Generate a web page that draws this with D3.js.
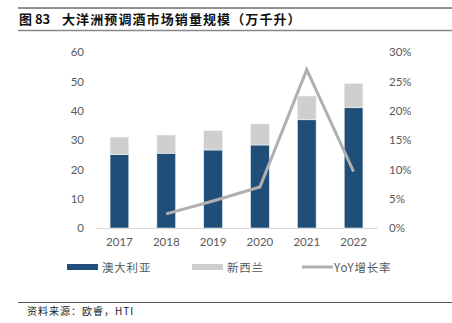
<!DOCTYPE html>
<html><head><meta charset="utf-8">
<script src="https://cdn.jsdelivr.net/npm/d3@7"></script>
<style>
body{margin:0;background:#fff;}
svg{display:block;}
</style></head>
<body>
<svg id="c" width="452" height="323"></svg>
<script>
const years = ["2017","2018","2019","2020","2021","2022"];
const australia = [25.0, 25.5, 26.6, 28.3, 36.9, 41.0];
const newZealand = [6.0, 6.2, 6.6, 7.2, 8.1, 8.3];
const yoy = [null, 2.4, 4.6, 7.0, 27.0, 9.6];
const leftTicks = [0,10,20,30,40,50,60];
const rightTicks = [0,5,10,15,20,25,30];
const seriesNames = ["澳大利亚","新西兰","YoY增长率"];
const titleNum = "图 83";
const title = "大洋洲预调酒市场销量规模（万千升）";
const source = "资料来源：欧睿，HTI";

const svg = d3.select("#c");
const cjk = "'Noto Sans CJK SC', sans-serif";
const latin = "Lato, 'Noto Sans', sans-serif";
const colAus = "#1f4e79", colNz = "#d0cece", colLine = "#b0b0b0", txt = "#595959";

// title block
svg.append("line").attr("x1",18).attr("x2",452).attr("y1",8).attr("y2",8).attr("stroke","#222").attr("stroke-width",1);
svg.append("line").attr("x1",18).attr("x2",452).attr("y1",30.5).attr("y2",30.5).attr("stroke","#888").attr("stroke-width",1.5);
svg.append("text").attr("x",19).attr("y",24).attr("font-family",cjk).attr("font-weight","bold")
  .attr("font-size",13).attr("fill","#111").attr("xml:space","preserve").text(titleNum);
svg.append("text").attr("x",62).attr("y",24).attr("font-family",cjk).attr("font-weight","bold")
  .attr("font-size",13).attr("letter-spacing",1.1).attr("fill","#111").text(title);

const x = d3.scaleBand().domain(years).range([96,377]).paddingInner(0.6).paddingOuter(0.3);
const y = d3.scaleLinear().domain([0,60]).range([228,52]);
const y2 = d3.scaleLinear().domain([0,30]).range([228,52]);

// bars
const g = svg.append("g");
g.selectAll("rect.aus").data(years).join("rect").attr("class","aus")
  .attr("x",d=>x(d)).attr("width",x.bandwidth())
  .attr("y",(d,i)=>y(australia[i])).attr("height",(d,i)=>y(0)-y(australia[i]))
  .attr("fill",colAus).attr("stroke","#e8eef4").attr("stroke-width",0.6);
g.selectAll("rect.nz").data(years).join("rect").attr("class","nz")
  .attr("x",d=>x(d)).attr("width",x.bandwidth())
  .attr("y",(d,i)=>y(australia[i]+newZealand[i])).attr("height",(d,i)=>y(australia[i])-y(australia[i]+newZealand[i]))
  .attr("fill",colNz).attr("stroke","#f2f2f2").attr("stroke-width",0.6);

// x axis
const xAxis = svg.append("g").attr("transform","translate(0,228)").call(d3.axisBottom(x).tickSize(0).tickPadding(10));
xAxis.select(".domain").attr("stroke","#d9d9d9").attr("stroke-width",1.2);
xAxis.selectAll("text").attr("font-family",latin).attr("font-size",11.5).attr("fill",txt);

// left axis
const yAxis = svg.append("g").attr("transform","translate(84,0)").call(d3.axisLeft(y).tickValues(leftTicks).tickSize(0).tickPadding(0));
yAxis.select(".domain").remove();
yAxis.selectAll("text").attr("font-family",latin).attr("font-size",11.5).attr("fill",txt);

// right axis
const yAxis2 = svg.append("g").attr("transform","translate(389,0)").call(d3.axisRight(y2).tickValues(rightTicks).tickSize(0).tickPadding(0).tickFormat(d=>d+"%"));
yAxis2.select(".domain").remove();
yAxis2.selectAll("text").attr("font-family",latin).attr("font-size",11.5).attr("fill",txt);

// line
const line = d3.line().defined(d=>d.v!=null).x(d=>x(d.k)+x.bandwidth()/2).y(d=>y2(d.v));
svg.append("path").datum(years.map((k,i)=>({k, v:yoy[i]})))
  .attr("d",line).attr("fill","none").attr("stroke",colLine).attr("stroke-width",3).attr("stroke-linejoin","miter");

// legend
const lg = svg.append("g");
lg.append("rect").attr("x",67).attr("y",264).attr("width",31).attr("height",6).attr("fill",colAus);
lg.append("text").attr("x",102).attr("y",271.5).text(seriesNames[0]);
lg.append("rect").attr("x",192).attr("y",264).attr("width",31).attr("height",6).attr("fill",colNz);
lg.append("text").attr("x",227).attr("y",271.5).text(seriesNames[1]);
lg.append("line").attr("x1",302).attr("x2",333).attr("y1",267).attr("y2",267).attr("stroke",colLine).attr("stroke-width",3);
lg.append("text").attr("x",334).attr("y",271.5).text(seriesNames[2]);
lg.selectAll("text").attr("font-family",cjk).attr("font-size",11.5).attr("letter-spacing",0.8).attr("fill",txt);

// source
svg.append("line").attr("x1",18).attr("x2",452).attr("y1",302.5).attr("y2",302.5).attr("stroke","#555").attr("stroke-width",1);
svg.append("text").attr("x",27).attr("y",315).attr("font-family",cjk).attr("font-size",10).attr("letter-spacing",1).attr("fill","#222").text(source);
</script>
</body></html>
